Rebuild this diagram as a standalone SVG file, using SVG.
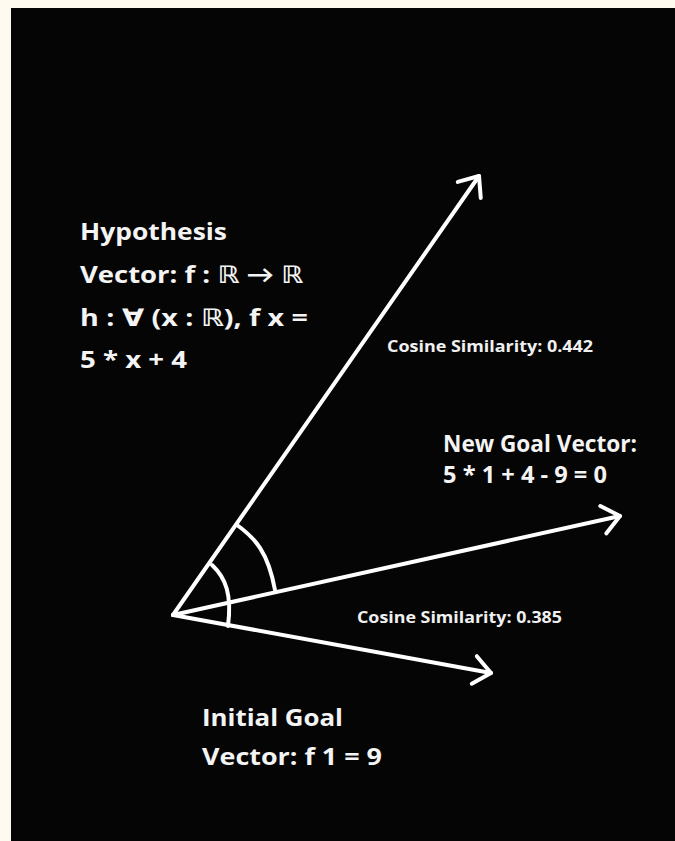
<svg xmlns="http://www.w3.org/2000/svg" width="675" height="841" viewBox="0 0 675 841">
  <style>
    .big { font-family: "Open Sans", Lato, "DejaVu Sans", sans-serif; font-weight: bold; font-size: 24px; fill: #f4f4f4; }
    .small { font-family: "Open Sans", Lato, "DejaVu Sans", sans-serif; font-weight: bold; font-size: 16px; fill: #f0f0f0; }
    .vec { stroke: #ffffff; stroke-width: 4; fill: none; stroke-linecap: round; marker-end: url(#head); }
    .arc { stroke: #ffffff; stroke-width: 4; fill: none; stroke-linecap: round; }
  </style>
  <defs>
    <marker id="head" markerUnits="userSpaceOnUse" orient="auto" refX="0" refY="0" markerWidth="40" markerHeight="40" overflow="visible">
      <path d="M-17,-14 L0,0 L-17,14" fill="none" stroke="#ffffff" stroke-width="4" stroke-linecap="round" stroke-linejoin="round"/>
    </marker>
  </defs>
  <rect x="0" y="0" width="675" height="841" fill="#fffaf0"/>
  <rect x="11" y="8" width="664" height="833" fill="#050505"/>

  <g id="connectors">
    <path class="vec" d="M173,615 L479,176"/>
    <path class="vec" d="M173,615 L620,516"/>
    <path class="vec" d="M173,615 L491,673"/>
    <path class="arc" d="M212,565 C226,578 232,595 228,626"/>
    <path class="arc" d="M237,525 C255,538 268,552 275,590"/>
  </g>

  <g id="hypothesis">
    <text class="big" x="80" y="240" textLength="147" lengthAdjust="spacingAndGlyphs">Hypothesis</text>
    <text class="big" x="80" y="283" textLength="223" lengthAdjust="spacingAndGlyphs">Vector: f : ℝ → ℝ</text>
    <text class="big" x="80" y="326" textLength="228" lengthAdjust="spacingAndGlyphs">h : ∀  (x : ℝ), f x =</text>
    <text class="big" x="80" y="368" textLength="107" lengthAdjust="spacingAndGlyphs">5 * x + 4</text>
  </g>
  <g id="new-goal">
    <text class="big" x="443" y="452" textLength="194" lengthAdjust="spacingAndGlyphs">New Goal Vector:</text>
    <text class="big" x="443" y="483" textLength="164" lengthAdjust="spacingAndGlyphs">5 * 1 + 4 - 9 = 0</text>
  </g>
  <g id="initial-goal">
    <text class="big" x="202" y="726" textLength="141" lengthAdjust="spacingAndGlyphs">Initial Goal</text>
    <text class="big" x="202" y="765" textLength="180" lengthAdjust="spacingAndGlyphs">Vector: f 1 = 9</text>
  </g>
  <g id="sim-hyp">
    <text class="small" x="387" y="352" textLength="206" lengthAdjust="spacingAndGlyphs">Cosine Similarity: 0.442</text>
  </g>
  <g id="sim-init">
    <text class="small" x="357" y="623" textLength="205" lengthAdjust="spacingAndGlyphs">Cosine Similarity: 0.385</text>
  </g>
</svg>
